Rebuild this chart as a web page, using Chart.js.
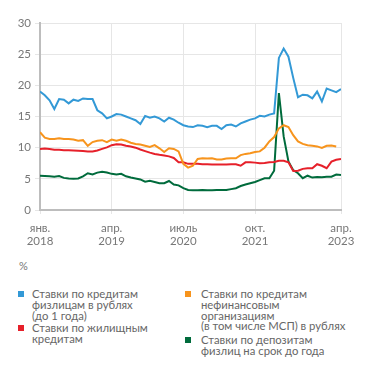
<!DOCTYPE html>
<html>
<head>
<meta charset="utf-8">
<script src="https://cdn.jsdelivr.net/npm/chart.js@4/dist/chart.umd.min.js"></script>
<style>
  html, body { margin: 0; padding: 0; background: #fff; }
  body { width: 371px; height: 375px; position: relative; overflow: hidden; font-family: Lato, "Open Sans", sans-serif; }
  #wrap { position: absolute; left: 0; top: 0; width: 371px; height: 255px; }
  .unit { position: absolute; left: 19px; top: 259px; font-size: 11px; color: #777; }
  .item { position: absolute; font-size: 11.3px; line-height: 10.8px; color: #666; }
  .sq { position: absolute; width: 6px; height: 6px; }
</style>
</head>
<body>
<div id="wrap"><canvas id="c" width="371" height="255"></canvas></div>
<div id="legend"></div>
<script>
// Months from Jan 2018 (index 0) to Apr 2023 (index 63)
const tickMonths = [0, 15, 30, 45, 63];
const tickLabels = [["янв.", "2018"], ["апр.", "2019"], ["июль", "2020"], ["окт.", "2021"], ["апр.", "2023"]];
const yTicks = [0, 5, 10, 15, 20, 25, 30];

const seriesNames = [
  "Ставки по кредитам физлицам в рублях (до 1 года)",
  "Ставки по жилищным кредитам",
  "Ставки по кредитам нефинансовым организациям (в том числе МСП) в рублях",
  "Ставки по депозитам физлиц на срок до года"
];

const consumerLoans = [
  19.0, 18.4, 17.6, 16.2, 17.8, 17.7, 17.1, 17.7, 17.5, 17.9,
  17.8, 17.8, 16.0, 15.5, 14.7, 15.0, 15.4, 15.3, 15.0, 14.7,
  14.4, 13.8, 15.1, 14.8, 15.0, 14.7, 14.2, 14.8, 14.5, 14.0,
  13.6, 13.4, 13.3, 13.6, 13.5, 13.3, 13.5, 13.5, 13.0, 13.6,
  13.7, 13.4, 13.9, 14.2, 14.5, 14.7, 15.1, 15.0, 15.3, 15.5,
  24.4, 25.9, 24.6, 21.2, 18.1, 18.5, 18.4, 17.9, 19.0, 17.4,
  19.5, 19.2, 18.9, 19.4
];
const corporateLoans = [
  12.5, 11.6, 11.4, 11.4, 11.5, 11.4, 11.4, 11.3, 11.1, 11.2,
  10.3, 10.9, 11.1, 11.2, 10.9, 11.3, 11.1, 11.3, 11.1, 10.8,
  10.6, 10.5, 10.3, 10.1, 10.4, 9.9, 9.3, 9.9, 9.8, 9.4,
  7.4, 6.8, 7.1, 8.2, 8.3, 8.25, 8.3, 8.1, 8.1, 8.25,
  8.3, 8.3, 8.8, 9.0, 9.1, 9.3, 9.4, 10.0, 11.0, 11.7,
  13.1, 13.6, 13.3, 12.0, 11.0, 10.6, 10.4, 10.3, 10.2, 9.95,
  10.3, 10.35, 10.2, null
];
const mortgageLoans = [
  9.8, 9.85, 9.8, 9.65, 9.65, 9.6, 9.6, 9.55, 9.5, 9.45,
  9.4, 9.4, 9.55, 9.8, 10.05, 10.4, 10.55, 10.5, 10.3, 10.2,
  10.0, 9.7, 9.45, 9.2, 9.0, 8.85, 8.75, 8.6, 8.35, 7.65,
  7.65, 7.4, 7.4, 7.4, 7.35, 7.35, 7.3, 7.3, 7.3, 7.3,
  7.35, 7.35, 7.1, 7.65, 7.65, 7.6, 7.5, 7.55, 7.65, 7.7,
  7.9, 7.9, 7.65, 6.25, 6.3, 6.6, 6.7, 6.7, 7.35, 7.1,
  6.7, 7.75, 8.05, 8.2
];
const deposits = [
  5.5, 5.45, 5.4, 5.35, 5.45, 5.15, 5.05, 5.0, 5.05, 5.4,
  5.9, 5.7, 6.0, 6.15, 6.0, 5.8, 5.7, 5.8, 5.4, 5.2,
  5.05, 4.9, 4.55, 4.7, 4.5, 4.3, 4.3, 4.65, 4.1, 3.95,
  3.5, 3.2, 3.15, 3.15, 3.2, 3.15, 3.15, 3.2, 3.2, 3.2,
  3.35, 3.5, 3.85, 4.1, 4.3, 4.5, 4.8, 5.1, 5.1, 6.3,
  18.75, 11.8, 7.8, 6.4, 5.9, 5.1, 5.5, 5.2, 5.3, 5.25,
  5.35, 5.35, 5.7, 5.6
];

const colors = { blue: "#3399d6", red: "#e6202a", orange: "#f7941d", green: "#006b3c" };

const toXY = arr => arr.map((v, i) => ({ x: i, y: v }));

const datasets = [
  { label: seriesNames[0], data: toXY(consumerLoans), borderColor: colors.blue },
  { label: seriesNames[2], data: toXY(corporateLoans), borderColor: colors.orange },
  { label: seriesNames[1], data: toXY(mortgageLoans), borderColor: colors.red },
  { label: seriesNames[3], data: toXY(deposits), borderColor: colors.green }
].map(d => Object.assign(d, { borderWidth: 2, pointRadius: 0, tension: 0, fill: false, spanGaps: false }));

new Chart(document.getElementById("c"), {
  type: "line",
  data: { datasets },
  options: {
    responsive: false,
    animation: false,
    events: [],
    layout: { padding: { left: 0, right: 30, top: 23, bottom: 0 } },
    plugins: { legend: { display: false }, tooltip: { enabled: false } },
    scales: {
      x: {
        type: "linear",
        min: 0,
        max: 63,
        afterBuildTicks: s => { s.ticks = tickMonths.map(v => ({ value: v })); },
        afterFit: s => { s.height = 45; },
        ticks: {
          autoSkip: false,
          maxRotation: 0,
          padding: 8,
          color: "#777",
          font: { family: "Lato", size: 11.5, lineHeight: 1.1 },
          callback: (v, i) => tickLabels[i]
        },
        grid: { color: "#e6e6e6", lineWidth: 1, tickLength: 4, drawTicks: true },
        border: { color: "#bdbdbd", width: 2 }
      },
      y: {
        min: 0,
        max: 30,
        afterBuildTicks: s => { s.ticks = yTicks.map(v => ({ value: v })); },
        afterFit: s => { s.width = 40; },
        ticks: { color: "#777", padding: 4, font: { family: "Lato", size: 11.5 } },
        grid: { color: "#e6e6e6", lineWidth: 1, tickLength: 5 },
        border: { color: "#bdbdbd", width: 2 }
      }
    }
  }
});

// HTML legend (multi-line labels)
const legendItems = [
  { lines: ["Ставки по кредитам", "физлицам в рублях", "(до 1 года)"], color: colors.blue, sx: 18, tx: 32, top: 289 },
  { lines: ["Ставки по жилищным", "кредитам"], color: colors.red, sx: 18, tx: 32, top: 323 },
  { lines: ["Ставки по кредитам", "нефинансовым", "организациям", "(в том числе МСП) в рублях"], color: colors.orange, sx: 185, tx: 201, top: 289 },
  { lines: ["Ставки по депозитам", "физлиц на срок до года"], color: colors.green, sx: 185, tx: 201, top: 335 }
];
const leg = document.getElementById("legend");
const unit = document.createElement("div");
unit.className = "unit";
unit.textContent = "%";
leg.appendChild(unit);
legendItems.forEach(it => {
  const sq = document.createElement("div");
  sq.className = "sq";
  sq.style.left = it.sx + "px";
  sq.style.top = (it.top + 2) + "px";
  sq.style.background = it.color;
  leg.appendChild(sq);
  const t = document.createElement("div");
  t.className = "item";
  t.style.left = it.tx + "px";
  t.style.top = it.top + "px";
  t.innerHTML = it.lines.join("<br>");
  leg.appendChild(t);
});
</script>
</body>
</html>
